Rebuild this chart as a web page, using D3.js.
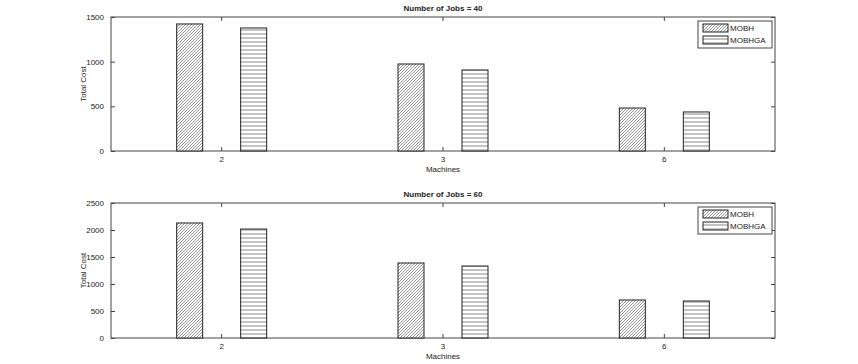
<!DOCTYPE html>
<html>
<head>
<meta charset="utf-8">
<script src="https://cdn.jsdelivr.net/npm/d3@7"></script>
<style>
  body { margin: 0; background: #fff; }
  text { font-family: "Liberation Sans", Arial, sans-serif; fill: #222; }
</style>
</head>
<body>
<div id="chart"></div>
<script>
// data
var machines = ['2', '3', '6'];
var seriesNames = ['MOBH', 'MOBHGA'];
var jobs40MOBH = [1422, 974, 481];
var jobs40MOBHGA = [1377, 907, 437];
var jobs60MOBH = [2130, 1389, 704];
var jobs60MOBHGA = [2018, 1333, 685];
var yTicks40 = [0, 500, 1000, 1500];
var yTicks60 = [0, 500, 1000, 1500, 2000, 2500];

var W = 858, H = 364;
var svg = d3.select('#chart').append('svg')
    .attr('width', W).attr('height', H);

// hatch patterns
var defs = svg.append('defs');
var diag = defs.append('pattern')
    .attr('id', 'hatchDiag')
    .attr('patternUnits', 'userSpaceOnUse')
    .attr('width', 3).attr('height', 3);
diag.append('rect').attr('width', 3).attr('height', 3).attr('fill', '#fff');
diag.append('path')
    .attr('d', 'M-1,1 l2,-2 M0,3 l3,-3 M2,4 l2,-2')
    .attr('stroke', '#777').attr('stroke-width', 0.8);

var horiz = defs.append('pattern')
    .attr('id', 'hatchHoriz')
    .attr('patternUnits', 'userSpaceOnUse')
    .attr('width', 4).attr('height', 4);
horiz.append('rect').attr('width', 4).attr('height', 4).attr('fill', '#fff');
horiz.append('line')
    .attr('x1', 0).attr('x2', 4).attr('y1', 2).attr('y2', 2)
    .attr('stroke', '#888').attr('stroke-width', 1);

var fills = { 'MOBH': 'url(#hatchDiag)', 'MOBHGA': 'url(#hatchHoriz)' };

function drawPanel(opts) {
    var left = 111, right = 775;
    var top = opts.top, bottom = opts.bottom;
    var g = svg.append('g');

    var x = d3.scaleBand().domain(machines).range([left, right]);
    var y = d3.scaleLinear().domain([0, opts.ymax]).range([bottom, top]);

    // frame
    g.append('rect')
        .attr('x', left).attr('y', top)
        .attr('width', right - left).attr('height', bottom - top)
        .attr('fill', 'none').attr('stroke', '#444').attr('stroke-width', 1);

    // left axis (ticks inside)
    var yAxis = g.append('g')
        .attr('transform', `translate(${left},0)`)
        .call(d3.axisLeft(y).tickValues(opts.ticks).tickFormat(d3.format('d'))
            .tickSizeInner(-4).tickSizeOuter(0).tickPadding(7));
    yAxis.select('.domain').remove();
    yAxis.selectAll('line').attr('stroke', '#444');
    yAxis.selectAll('text').style('font-size', '8px').attr('fill', '#333');

    // right ticks
    var yAxisR = g.append('g')
        .attr('transform', `translate(${right},0)`)
        .call(d3.axisRight(y).tickValues(opts.ticks).tickSizeInner(-4).tickSizeOuter(0).tickFormat(''));
    yAxisR.select('.domain').remove();
    yAxisR.selectAll('line').attr('stroke', '#444');

    // bottom axis
    var xAxis = g.append('g')
        .attr('transform', `translate(0,${bottom})`)
        .call(d3.axisBottom(x).tickSizeInner(-4).tickSizeOuter(0).tickPadding(5));
    xAxis.select('.domain').remove();
    xAxis.selectAll('line').attr('stroke', '#444');
    xAxis.selectAll('text').style('font-size', '8px').attr('fill', '#333');

    // top ticks
    var xAxisT = g.append('g')
        .attr('transform', `translate(0,${top})`)
        .call(d3.axisTop(x).tickSizeInner(-4).tickSizeOuter(0).tickFormat(''));
    xAxisT.select('.domain').remove();
    xAxisT.selectAll('line').attr('stroke', '#444');

    // bars
    var inner = d3.scaleBand().domain(seriesNames).range([-45, 45])
        .paddingInner(0.59375).paddingOuter(0);
    var rows = [];
    machines.forEach(function (m, i) {
        rows.push({ m: m, s: 'MOBH', v: opts.a[i] });
        rows.push({ m: m, s: 'MOBHGA', v: opts.b[i] });
    });
    g.append('g').selectAll('rect').data(rows)
        .join('rect')
        .attr('x', function (d) { return x(d.m) + x.bandwidth() / 2 + inner(d.s); })
        .attr('width', inner.bandwidth())
        .attr('y', function (d) { return y(d.v); })
        .attr('height', function (d) { return bottom - y(d.v); })
        .attr('fill', function (d) { return fills[d.s]; })
        .attr('stroke', '#222').attr('stroke-width', 1);

    // title
    g.append('text')
        .attr('x', (left + right) / 2).attr('y', top - 6)
        .attr('text-anchor', 'middle')
        .style('font-size', '8px').style('font-weight', 'bold')
        .text(opts.title);

    // x label
    g.append('text')
        .attr('x', (left + right) / 2).attr('y', bottom + 21)
        .attr('text-anchor', 'middle')
        .style('font-size', '8px')
        .text('Machines');

    // y label
    g.append('text')
        .attr('transform', `translate(86,${(top + bottom) / 2}) rotate(-90)`)
        .attr('text-anchor', 'middle')
        .style('font-size', '8px')
        .text('Total Cost');

    // legend
    var lg = g.append('g').attr('transform', `translate(698,${top + 4})`);
    lg.append('rect')
        .attr('width', 74).attr('height', 27)
        .attr('fill', '#fff').attr('stroke', '#444');
    seriesNames.forEach(function (s, i) {
        lg.append('rect')
            .attr('x', 5).attr('y', 3 + i * 12)
            .attr('width', 25).attr('height', 8)
            .attr('fill', fills[s]).attr('stroke', '#222');
        lg.append('text')
            .attr('x', 32).attr('y', 10 + i * 12)
            .style('font-size', '8px')
            .text(s);
    });
}

drawPanel({ top: 17, bottom: 151, ymax: 1500, ticks: yTicks40,
    a: jobs40MOBH, b: jobs40MOBHGA, title: 'Number of Jobs = 40' });
drawPanel({ top: 203, bottom: 338, ymax: 2500, ticks: yTicks60,
    a: jobs60MOBH, b: jobs60MOBHGA, title: 'Number of Jobs = 60' });
</script>
</body>
</html>
